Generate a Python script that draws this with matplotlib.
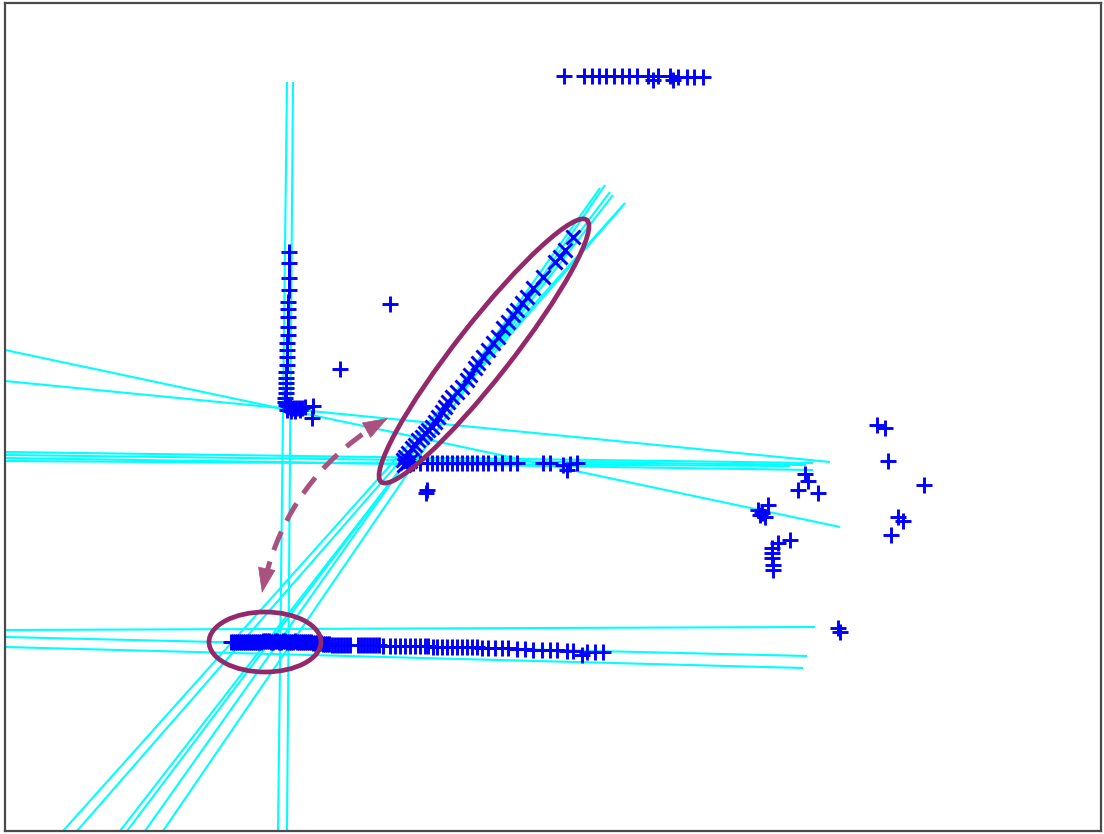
import matplotlib
matplotlib.use("Agg")
import matplotlib.pyplot as plt
from matplotlib.patches import Ellipse
import numpy as np

# ---------------- data (image-pixel coordinates, y grows downward) ----------------
# cyan fitted lines: each as (x0, y0, x1, y1)
line_x0 = [287, 293, 5, 5, 5, 5, 5, 5, 5, 5, 5, 63, 77, 120, 127, 145, 163]
line_y0 = [82, 82, 452, 455, 458, 461, 350, 381, 630, 637, 647, 831, 831, 831, 831, 831, 831]
line_x1 = [278, 287, 813, 806, 813, 790, 840, 830, 815, 807, 803, 625, 622, 613, 610, 600, 605]
line_y1 = [831, 831, 463, 465, 470, 466, 527, 462, 627, 656, 668, 203, 207, 195, 192, 188, 185]

# '+' points: top row
top_x = [564, 584, 592, 599, 606, 614, 622, 629, 637, 648, 653, 658, 670, 673, 678, 687, 694, 703]
top_y = [76, 76, 76, 76, 76, 76, 76, 76, 76, 76, 80, 76, 76, 80, 77, 77, 77, 77]

# '+' points: vertical column and its foot
col_x = [289, 289, 289, 289, 288, 288, 288, 288, 288, 287, 287, 287, 287, 286, 286, 286, 286, 286,
         285, 285, 286, 288, 290, 293, 296, 299, 302, 305, 287, 291, 295, 300, 313, 312]
col_y = [252, 263, 278, 290, 302, 309, 317, 327, 335, 343, 350, 357, 365, 372, 378, 383, 388, 393,
         398, 402, 405, 406, 407, 408, 408, 408, 408, 407, 410, 411, 411, 410, 406, 418]

# isolated '+' points
iso_x = [390, 340, 427, 426]
iso_y = [304, 369, 490, 493]

# diagonal 'x' points
diag_x = [573, 565, 560, 555, 543, 533, 527, 522, 517, 513, 508, 503, 498, 493, 488, 483, 478, 475,
          470, 467, 462, 457, 452, 448, 445, 442, 438, 435, 432, 428, 425, 422, 418, 415, 412, 408,
          405, 403, 407, 410, 404]
diag_y = [237, 250, 257, 262, 277, 288, 297, 303, 310, 315, 322, 328, 337, 343, 350, 357, 363, 368,
          375, 380, 387, 392, 397, 402, 407, 412, 417, 422, 427, 430, 433, 437, 440, 445, 448, 453,
          457, 460, 463, 461, 465]

# '+' row at the middle horizontal band
mid_x = [408, 413, 420, 427, 432, 437, 442, 447, 452, 457, 462, 467, 472, 477, 483, 488, 495, 502, 510, 517,
         543, 550, 563, 567, 570, 577]
mid_y = [462, 463, 463, 463, 463, 463, 463, 463, 463, 463, 463, 463, 463, 463, 463, 463, 463, 463, 463, 463,
         463, 463, 465, 470, 464, 463]

# '+' row at the bottom band (dense head, then sparse tail)
bot_x = [231, 233, 235, 237, 239, 241, 243, 245, 247, 249, 251, 253, 255, 257, 259, 261, 263, 265,
         267, 269, 271, 273, 275, 277, 279, 281, 283, 285, 287, 289, 291, 293, 295, 297, 299, 301,
         303, 305, 307, 309, 311, 313, 315, 317, 319, 321, 323, 325, 327, 329, 332, 335, 338, 341,
         344, 347, 350, 358, 361, 364, 367, 370, 373, 376, 379,
         383, 390, 395, 400, 405, 410, 415, 420, 425, 428, 433, 437, 442, 447, 452, 457, 462, 467,
         472, 477, 482, 488, 495, 502, 508, 517, 525, 533, 542, 550, 557, 567, 573, 582, 587, 595, 603]
bot_y = [642, 642, 642, 642, 642, 642, 642, 642, 642, 642, 642, 642, 642, 642, 642, 642, 641, 641,
         641, 641, 642, 642, 641, 641, 642, 642, 641, 641, 642, 642, 642, 642, 641, 642, 642, 642,
         642, 642, 642, 642, 642, 643, 643, 643, 643, 643, 644, 644, 644, 644, 645, 645, 645, 645,
         645, 645, 645, 645, 645, 645, 645, 645, 645, 645, 645,
         646, 646, 646, 646, 646, 646, 646, 646, 646, 646, 647, 647, 647, 647, 647, 647, 647, 647,
         647, 647, 648, 648, 648, 648, 648, 649, 649, 650, 650, 650, 650, 651, 651, 655, 652, 652, 652]

# '+' points: right-hand scatter
right_x = [877, 885, 888, 924, 898, 903, 891, 805, 808, 798, 818, 768, 758, 762, 765, 760,
           790, 778, 772, 772, 772, 773, 773, 838, 840]
right_y = [425, 428, 461, 485, 517, 521, 535, 474, 481, 490, 493, 505, 510, 513, 517, 515,
           540, 543, 548, 553, 558, 565, 570, 628, 632]

# annotation geometry
ell1_center = (484, 351)
ell1_size = (333, 55)
ell1_angle = -51.9
ell2_center = (265, 642)
ell2_size = (112, 60)
arrow_from = (262, 593)
arrow_to = (388, 418)
arrow_rad = -0.23

# ---------------- drawing ----------------
W, H = 1104, 834
fig = plt.figure(figsize=(W / 100, H / 100), dpi=100)
L, R, T, B = 5, 1101, 3, 831
ax = fig.add_axes([L / W, 1 - B / H, (R - L) / W, (B - T) / H])
ax.set_xlim(L, R)
ax.set_ylim(B, T)
ax.set_xticks([])
ax.set_yticks([])
for s in ax.spines.values():
    s.set_color('#4a4a4a')
    s.set_linewidth(1.6)

cyan = '#00FFFF'
for x0, y0, x1, y1 in zip(line_x0, line_y0, line_x1, line_y1):
    ax.plot([x0, x1], [y0, y1], color=cyan, lw=1.5, zorder=1, solid_capstyle='butt')

blue = '#0000FF'
plus_kw = dict(linestyle='none', marker='+', markersize=11.5, markeredgewidth=2.1,
               color=blue, zorder=2)
for xs, ys in [(top_x, top_y), (col_x, col_y), (iso_x, iso_y), (mid_x, mid_y),
               (bot_x, bot_y), (right_x, right_y)]:
    ax.plot(xs, ys, **plus_kw)
ax.plot(diag_x, diag_y, linestyle='none', marker='x', markersize=9.5, markeredgewidth=2.1,
        color=blue, zorder=2)

purple = '#93296A'
ax.add_patch(Ellipse(ell1_center, ell1_size[0], ell1_size[1], angle=ell1_angle,
                     fill=False, edgecolor=purple, lw=3.4, zorder=3))
ax.add_patch(Ellipse(ell2_center, ell2_size[0], ell2_size[1], angle=0,
                     fill=False, edgecolor=purple, lw=3.4, zorder=3))

# curved dashed double arrow: dashed body + solid heads along end tangents
acol = '#A9527F'
ax.annotate('', xy=arrow_to, xytext=arrow_from,
            arrowprops=dict(arrowstyle='-', connectionstyle=f'arc3,rad={arrow_rad}',
                            linestyle=(0, (4, 2.4)), lw=3.6, color=acol,
                            shrinkA=9, shrinkB=9, capstyle='butt'),
            zorder=3)
# control point of the quadratic curve (y-down pixel coords -> flip for display sense)
A = np.array(arrow_from, float)
Bp = np.array(arrow_to, float)
Ad = np.array([A[0], H - A[1]])
Bd = np.array([Bp[0], H - Bp[1]])
mid = (Ad + Bd) / 2
d = Bd - Ad
Cd = np.array([mid[0] + arrow_rad * d[1], mid[1] - arrow_rad * d[0]])
C = np.array([Cd[0], H - Cd[1]])
for tip, ref in [(A, C), (Bp, C)]:
    u = (tip - ref) / np.linalg.norm(tip - ref)
    start = tip - 18 * u
    ax.annotate('', xy=tuple(tip), xytext=tuple(start),
                arrowprops=dict(arrowstyle='-|>,head_length=1.7,head_width=0.6',
                                lw=0.5, color=acol, shrinkA=0, shrinkB=0),
                zorder=3)

fig.savefig('out.png', dpi=100)
